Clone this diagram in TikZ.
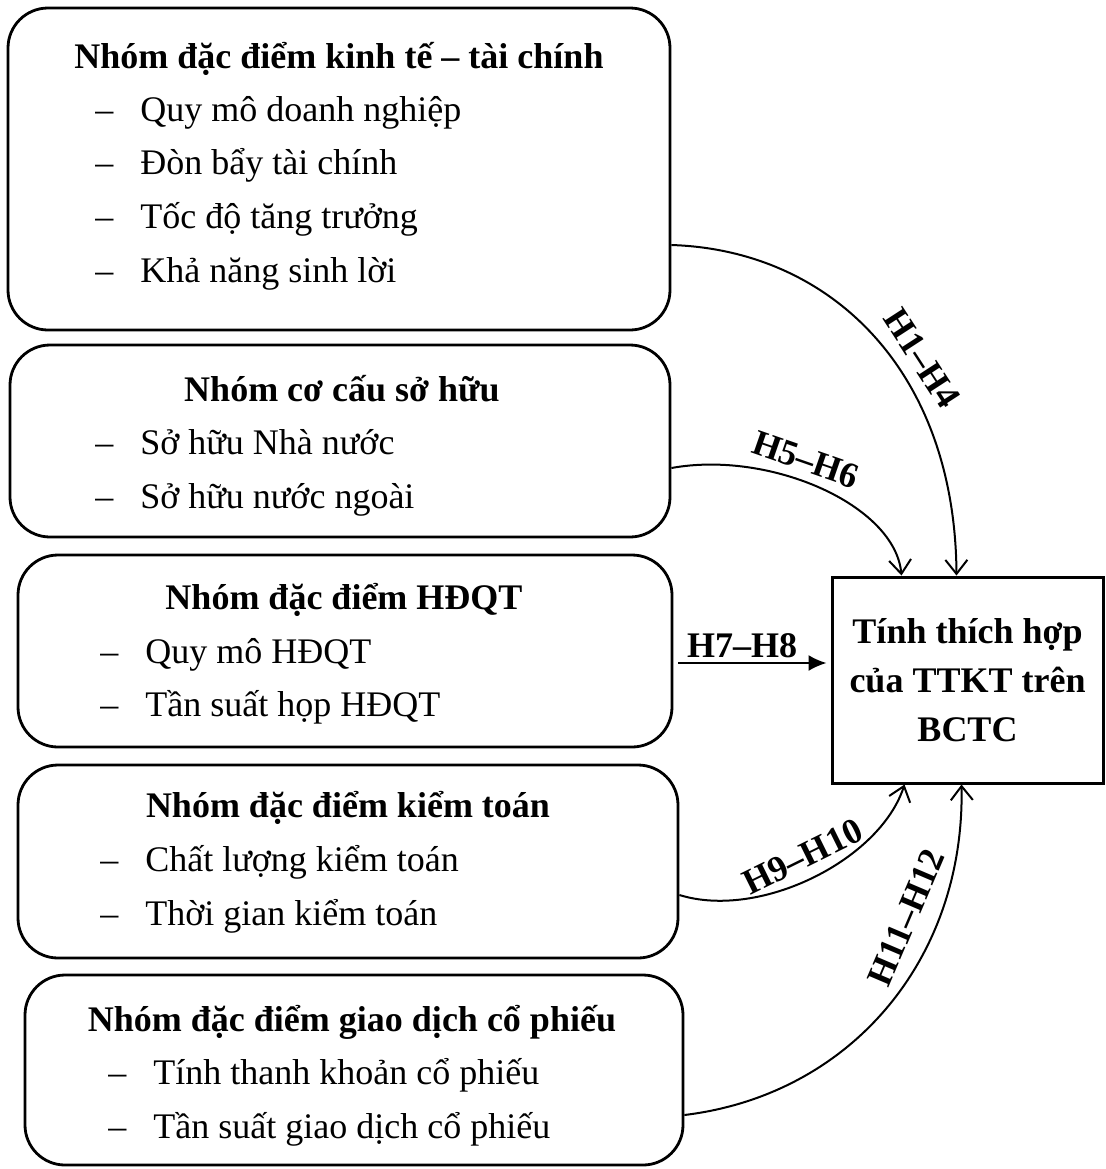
\documentclass[tikz,border=0pt]{standalone}
\usepackage{fontspec}
\setmainfont{Liberation Serif}
\usetikzlibrary{arrows.meta,calc}

\newcommand{\dsh}{\makebox[22.5pt][l]{--}}

\begin{document}
\begin{tikzpicture}[
    x=0.5pt, y=-0.5pt,
    every node/.style={font=\fontsize{18}{21}\selectfont},
    grp/.style={draw, line width=1.4pt, rounded corners=20pt, inner sep=0pt},
    goal/.style={draw, line width=1.5pt, inner sep=0pt, align=center,
        font=\fontsize{18}{24.5}\selectfont\bfseries},
    head/.style={anchor=base, inner sep=0pt, font=\fontsize{18}{21}\selectfont\bfseries},
    item/.style={anchor=base west, inner sep=0pt},
    hyp/.style={font=\fontsize{18}{21}\selectfont\bfseries, inner sep=2pt},
    link/.style={line width=1pt, -{Straight Barb[length=7pt,width=11pt]}}
]
\useasboundingbox (0,0) rectangle (1105,1169);

% Boxes
\node[grp, minimum width=331pt, minimum height=161pt] (kt) at (339,169) {};
\node[grp, minimum width=330pt, minimum height=96pt] (sh) at (340,441) {};
\node[grp, minimum width=327pt, minimum height=96pt] (hd) at (345,651) {};
\node[grp, minimum width=330pt, minimum height=96.5pt] (ktn) at (348,861.5) {};
\node[grp, minimum width=329pt, minimum height=95pt] (gd) at (354,1070) {};
\node[goal, minimum width=135.5pt, minimum height=103pt] (tt) at (967.5,680)
    {Tính thích hợp\\của TTKT trên\\BCTC};

% Texts
\node[head] (kt0) at (339,68) {Nhóm đặc điểm kinh tế -- tài chính};
\node[item] (kt1) at (95,121) {\dsh Quy mô doanh nghiệp};
\node[item] (kt2) at (95,174) {\dsh Đòn bẩy tài chính};
\node[item] (kt3) at (95,228) {\dsh Tốc độ tăng trưởng};
\node[item] (kt4) at (95,282) {\dsh Khả năng sinh lời};

\node[head] (sh0) at (342,401) {Nhóm cơ cấu sở hữu};
\node[item] (sh1) at (95,454) {\dsh Sở hữu Nhà nước};
\node[item] (sh2) at (95,508) {\dsh Sở hữu nước ngoài};

\node[head] (hd0) at (344,609) {Nhóm đặc điểm HĐQT};
\node[item] (hd1) at (100,663) {\dsh Quy mô HĐQT};
\node[item] (hd2) at (100,716) {\dsh Tần suất họp HĐQT};

\node[head] (ktn0) at (348,817) {Nhóm đặc điểm kiểm toán};
\node[item] (ktn1) at (100,871) {\dsh Chất lượng kiểm toán};
\node[item] (ktn2) at (100,925) {\dsh Thời gian kiểm toán};

\node[head] (gd0) at (352,1031) {Nhóm đặc điểm giao dịch cổ phiếu};
\node[item] (gd1) at (108,1084) {\dsh Tính thanh khoản cổ phiếu};
\node[item] (gd2) at (108,1138) {\dsh Tần suất giao dịch cổ phiếu};

% Edges
\draw[link] ($(kt.east)+(0,76)$) .. controls (830,250) and (955,370) ..
    node[hyp, sloped, above=4pt, pos=0.6] (h14) {H1--H4} ($(tt.north)+(-11,0)$);
\draw[link] ($(sh.east)+(0,27)$) .. controls (770,450) and (895,505) ..
    node[hyp, sloped, above=2pt, pos=0.42] (h56) {H5--H6} ($(tt.north)+(-66,0)$);
\draw[line width=1pt, -{Latex[length=9pt,width=8pt]}] ($(hd.east)+(5,12)$) --
    node[hyp, above, pos=0.43] (h78) {H7--H8} ($(tt.west)+(-4,-17)$);
\draw[link] ($(ktn.east)+(0,33.5)$) .. controls (760,920) and (880,860) ..
    node[hyp, sloped, above=3pt, pos=0.5] (h910) {H9--H10} ($(tt.south)+(-63,0)$);
\draw[link] ($(gd.east)+(0,45)$) .. controls (850,1095) and (965,960) ..
    node[hyp, sloped, above=7pt, pos=0.7] (h1112) {H11--H12} ($(tt.south)+(-6,0)$);

\end{tikzpicture}
\end{document}
